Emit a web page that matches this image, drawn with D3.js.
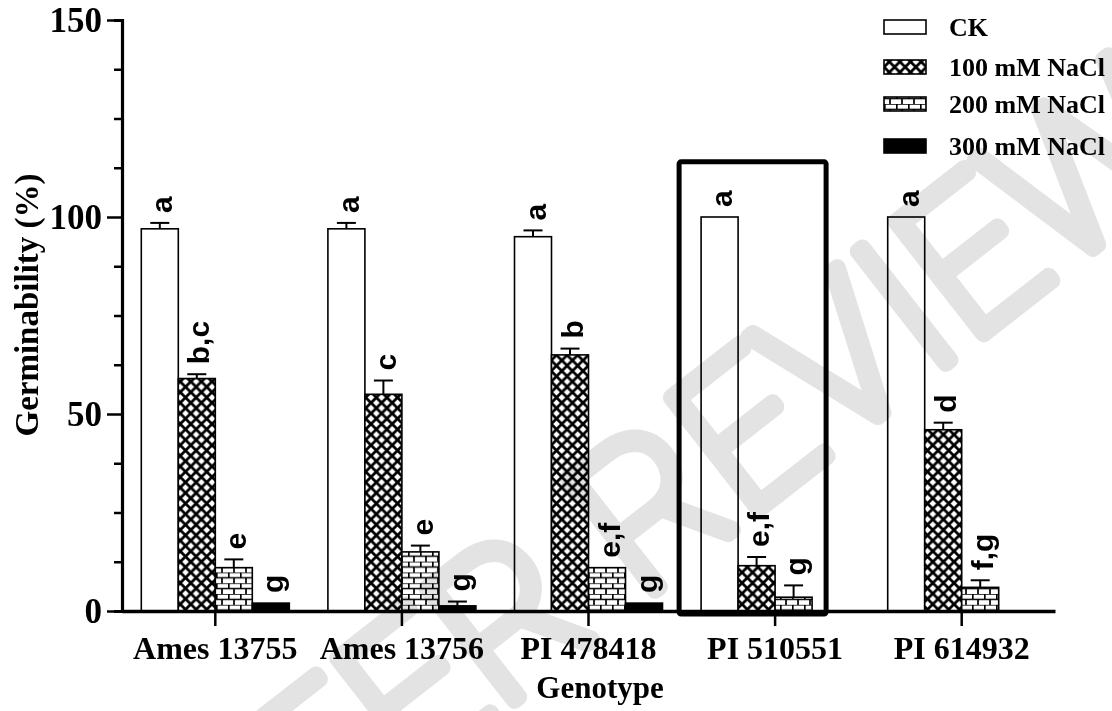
<!DOCTYPE html>
<html>
<head>
<meta charset="utf-8">
<script src="https://cdn.jsdelivr.net/npm/d3@7"></script>
<style>
  body { margin: 0; background: #fff; }
  .tick-label { font-family: "Liberation Serif", "Times New Roman", serif; font-weight: bold; }
  .letter { font-family: "Liberation Sans", Arial, sans-serif; font-weight: bold; }
</style>
</head>
<body>
<div id="chart"></div>
<script>
// chart data
var genotypes = ["Ames 13755", "Ames 13756", "PI 478418", "PI 510551", "PI 614932"];
var treatments = ["CK", "100 mM NaCl", "200 mM NaCl", "300 mM NaCl"];

// germinability (%) per treatment, one value per genotype
var ckValues = [97, 97, 95, 100, 100];
var nacl100Values = [59, 55, 65, 11.5, 46];
var nacl200Values = [11, 15, 11, 3.5, 6];
var nacl300Values = [2, 1.3, 2, 0, 0];

// standard error (upper half only is drawn)
var ckErrors = [1.5, 1.5, 1.6, 0, 0];
var nacl100Errors = [1.1, 3.5, 1.6, 2.2, 1.8];
var nacl200Errors = [2.1, 1.6, 0, 3, 1.8];
var nacl300Errors = [0, 1.1, 0, 0, 0];

// significance letters
var ckLetters = ["a", "a", "a", "a", "a"];
var nacl100Letters = ["b,c", "c", "b", "e,f", "d"];
var nacl200Letters = ["e", "e", "e,f", "g", "f,g"];
var nacl300Letters = ["g", "g", "g", "", ""];

var yTicks = [0, 50, 100, 150];
var highlighted = "PI 510551";

var svgWidth = 1112;
var svgHeight = 711;

var plot = { left: 122, right: 1055, top: 20, bottom: 611 };

var svg = d3.select("#chart")
  .append("svg")
  .attr("width", svgWidth)
  .attr("height", svgHeight);

// patterns for the bar fills
var defs = svg.append("defs");

var hatchSize = 10.6;
var hatch = defs.append("pattern")
  .attr("id", "hatch")
  .attr("patternUnits", "userSpaceOnUse")
  .attr("width", hatchSize)
  .attr("height", hatchSize);
hatch.append("rect")
  .attr("width", hatchSize)
  .attr("height", hatchSize)
  .attr("fill", "#fff");
[-1, 0, 1].forEach(function(k) {
  hatch.append("line")
    .attr("x1", k * hatchSize).attr("y1", 0)
    .attr("x2", (k + 1) * hatchSize).attr("y2", hatchSize)
    .attr("stroke", "#000").attr("stroke-width", 2.8);
  hatch.append("line")
    .attr("x1", (k + 1) * hatchSize).attr("y1", 0)
    .attr("x2", k * hatchSize).attr("y2", hatchSize)
    .attr("stroke", "#000").attr("stroke-width", 2.8);
});

var brickW = 12, brickH = 5.4;
var brick = defs.append("pattern")
  .attr("id", "brick")
  .attr("patternUnits", "userSpaceOnUse")
  .attr("width", brickW)
  .attr("height", brickH * 2);
brick.append("rect")
  .attr("width", brickW)
  .attr("height", brickH * 2)
  .attr("fill", "#fff");
brick.append("path")
  .attr("d", "M0," + 0 + "H" + brickW +
             "M0," + brickH + "H" + brickW +
             "M0.8,0V" + brickH +
             "M" + (brickW / 2) + "," + brickH + "V" + (brickH * 2))
  .attr("stroke", "#000")
  .attr("stroke-width", 1.7)
  .attr("fill", "none");

var fills = {
  "CK": "#fff",
  "100 mM NaCl": "url(#hatch)",
  "200 mM NaCl": "url(#brick)",
  "300 mM NaCl": "#000"
};

// one row per bar
var rows = [];
genotypes.forEach(function(g, i) {
  rows.push({ genotype: g, treatment: treatments[0], value: ckValues[i], err: ckErrors[i], letter: ckLetters[i] });
  rows.push({ genotype: g, treatment: treatments[1], value: nacl100Values[i], err: nacl100Errors[i], letter: nacl100Letters[i] });
  rows.push({ genotype: g, treatment: treatments[2], value: nacl200Values[i], err: nacl200Errors[i], letter: nacl200Letters[i] });
  rows.push({ genotype: g, treatment: treatments[3], value: nacl300Values[i], err: nacl300Errors[i], letter: nacl300Letters[i] });
});

// scales
var x0 = d3.scaleBand()
  .domain(genotypes)
  .range([plot.left, plot.right]);

var x1 = d3.scaleBand()
  .domain(treatments)
  .range([-74, 74]);

var y = d3.scaleLinear()
  .domain([0, 150])
  .range([plot.bottom, plot.top]);

function barX(d) {
  return x0(d.genotype) + x0.bandwidth() / 2 + x1(d.treatment);
}

// bars
svg.append("g")
  .selectAll("rect")
  .data(rows.filter(d => d.value > 0))
  .enter()
  .append("rect")
  .attr("x", d => barX(d))
  .attr("y", d => y(d.value))
  .attr("width", x1.bandwidth())
  .attr("height", d => y(0) - y(d.value))
  .attr("fill", d => fills[d.treatment])
  .attr("stroke", "#000")
  .attr("stroke-width", 1.6);

// error bars (upper half)
var errs = svg.append("g")
  .selectAll("g")
  .data(rows.filter(d => d.err > 0))
  .enter()
  .append("g")
  .attr("stroke", "#000")
  .attr("stroke-width", 2);
errs.append("line")
  .attr("x1", d => barX(d) + x1.bandwidth() / 2)
  .attr("x2", d => barX(d) + x1.bandwidth() / 2)
  .attr("y1", d => y(d.value))
  .attr("y2", d => y(d.value + d.err));
errs.append("line")
  .attr("x1", d => barX(d) + x1.bandwidth() / 2 - 9.5)
  .attr("x2", d => barX(d) + x1.bandwidth() / 2 + 9.5)
  .attr("y1", d => y(d.value + d.err))
  .attr("y2", d => y(d.value + d.err));

// significance letters, rotated
svg.append("g")
  .selectAll("text")
  .data(rows.filter(d => d.letter !== ""))
  .enter()
  .append("text")
  .attr("class", "letter")
  .attr("transform", d => `translate(${barX(d) + x1.bandwidth() / 2}, ${y(d.value + d.err) - 10}) rotate(-90)`)
  .attr("dy", "0.42em")
  .attr("font-size", 30)
  .text(d => d.letter);

// box around the highlighted genotype
svg.append("rect")
  .attr("x", x0(highlighted) + x0.bandwidth() / 2 + x1(treatments[0]) - 22)
  .attr("y", y(114))
  .attr("width", x1.bandwidth() * 3 + 36)
  .attr("height", y(0) - y(114) + 3)
  .attr("rx", 2)
  .attr("fill", "none")
  .attr("stroke", "#000")
  .attr("stroke-width", 5);

// y axis with minor ticks
var yAxis = svg.append("g")
  .attr("transform", `translate(${plot.left}, 0)`)
  .call(d3.axisLeft(y).tickValues(d3.range(0, 151, 12.5)).tickSize(8).tickFormat(""));
yAxis.selectAll(".tick line")
  .filter(d => yTicks.indexOf(d) >= 0)
  .attr("x2", -15);
yAxis.selectAll(".tick")
  .filter(d => yTicks.indexOf(d) >= 0)
  .append("text")
  .attr("class", "tick-label")
  .attr("x", -20)
  .attr("dy", "0.34em")
  .attr("fill", "#000")
  .attr("font-size", 35)
  .attr("text-anchor", "end")
  .text(d => d);
yAxis.select(".domain").attr("stroke-width", 3.2);
yAxis.selectAll(".tick line").attr("stroke-width", 2.5);

// x axis
var xAxis = svg.append("g")
  .attr("transform", `translate(0, ${plot.bottom})`)
  .call(d3.axisBottom(x0).tickSizeOuter(0).tickSizeInner(15));
xAxis.select(".domain").attr("stroke-width", 3.5);
xAxis.selectAll(".tick line").attr("stroke-width", 2.5);
xAxis.selectAll(".tick text")
  .attr("class", "tick-label")
  .attr("y", 48)
  .attr("dy", 0)
  .attr("font-size", 32)
  .attr("fill", "#000");

// axis titles
svg.append("text")
  .attr("class", "tick-label")
  .attr("x", 600)
  .attr("y", 698)
  .attr("text-anchor", "middle")
  .attr("font-size", 31)
  .text("Genotype");

svg.append("text")
  .attr("class", "tick-label")
  .attr("transform", "translate(38, 305) rotate(-90)")
  .attr("text-anchor", "middle")
  .attr("font-size", 33)
  .text("Germinability (%)");

// legend
var legendY = [27, 67, 104, 146];
var legend = svg.append("g")
  .selectAll("g")
  .data(treatments)
  .enter()
  .append("g")
  .attr("transform", (d, i) => `translate(884, ${legendY[i]})`);
legend.append("rect")
  .attr("x", 0)
  .attr("y", -7)
  .attr("width", 42)
  .attr("height", 14)
  .attr("fill", d => fills[d])
  .attr("stroke", "#000")
  .attr("stroke-width", 1.6);
legend.append("text")
  .attr("class", "tick-label")
  .attr("x", 65)
  .attr("dy", "0.35em")
  .attr("font-size", 26)
  .text(d => d);

// watermark
svg.append("text")
  .attr("transform", "translate(670, 490) rotate(-38)")
  .attr("text-anchor", "middle")
  .attr("dy", "0.35em")
  .attr("font-family", "Roboto, sans-serif")
  .attr("font-weight", 100)
  .attr("font-size", 200)
  .attr("fill", "none")
  .attr("stroke", "#e3e3e3")
  .attr("stroke-width", 17)
  .attr("stroke-linejoin", "round")
  .style("mix-blend-mode", "multiply")
  .text("PEER REVIEW");
</script>
</body>
</html>
